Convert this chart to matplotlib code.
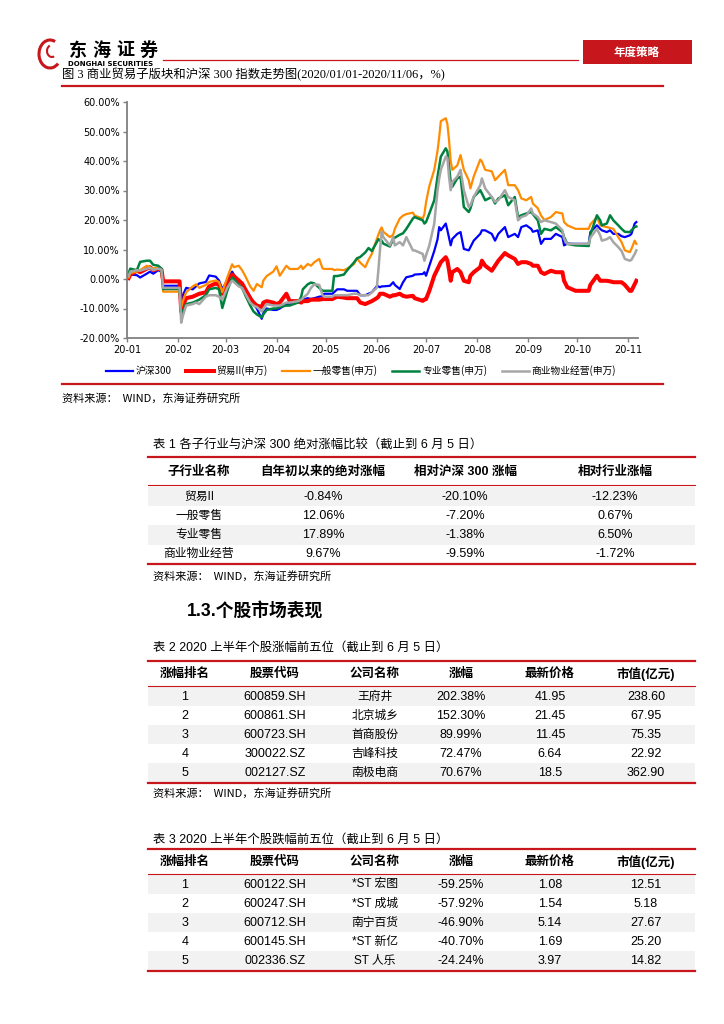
import pandas as pd
import matplotlib.pyplot as plt
import matplotlib.dates as mdates
from matplotlib.ticker import FuncFormatter
from matplotlib.lines import Line2D
from matplotlib.patches import Rectangle, Arc

plt.rcParams["font.family"] = ["Noto Sans CJK SC", "DejaVu Sans"]
CJK = ["Noto Sans CJK SC", "DejaVu Sans"]
SANS = ["Liberation Sans", "Noto Sans CJK SC"]
SERIF = ["Liberation Serif", "Noto Sans CJK SC"]

W, H = 724, 1024
RED = "#C8161D"

# ---- figure 3 data (cumulative change since 2020-01-01, %) ----
dates = [
    "01-02", "01-03", "01-07", "01-09", "01-13", "01-15", "01-17", "01-20", "01-22", "01-23",
    "02-02", "02-03", "02-04", "02-06", "02-10", "02-12", "02-14", "02-18", "02-20", "02-24", "02-26", "02-28",
    "03-02", "03-05", "03-06", "03-09", "03-11", "03-13", "03-16", "03-18", "03-20", "03-23", "03-24", "03-26", "03-30",
    "04-01", "04-03", "04-07", "04-09", "04-14", "04-16", "04-17", "04-20", "04-22", "04-24", "04-27", "04-29", "04-30",
    "05-05", "05-06", "05-08", "05-12", "05-14", "05-18", "05-20", "05-22", "05-25", "05-27", "05-29",
    "06-01", "06-02", "06-03", "06-04", "06-05", "06-09", "06-11", "06-12", "06-15", "06-17", "06-19", "06-23", "06-24", "06-29", "06-30",
    "07-01", "07-03", "07-06", "07-08", "07-09", "07-10", "07-13", "07-14", "07-15", "07-16", "07-17", "07-20", "07-22", "07-24", "07-27", "07-28", "07-30",
    "08-03", "08-04", "08-06", "08-10", "08-12", "08-14", "08-18", "08-20", "08-24", "08-26", "08-28", "08-31",
    "09-03", "09-04", "09-07", "09-09", "09-11", "09-15", "09-18", "09-22", "09-23", "09-25", "09-30",
    "10-08", "10-09", "10-13", "10-15", "10-16", "10-19", "10-21", "10-23", "10-26", "10-28", "10-30",
    "11-02", "11-03", "11-05", "11-06",
]

hs300 = [
    0.5, 1.5, 1.3, 0.5, 1.8, 2.5, 1.8, 3.0, 2.5, -2.3,
    -2.3, -8.5, -5.5, -3.0, -3.5, -2.5, -1.5, -1.0, 1.2, 0.8, -0.5, -3.5,
    -0.5, 2.5, 1.5, -1.0, -1.5, -3.5, -6.0, -8.5, -10.0, -13.5, -11.5, -10.0, -10.5,
    -10.5, -10.0, -8.5, -8.5, -8.0, -7.5, -7.0, -6.5, -6.8, -6.5, -6.0, -5.8, -5.0,
    -5.0, -4.5, -3.5, -3.5, -4.0, -4.0, -4.0, -5.5, -5.5, -5.0, -4.5,
    -2.5, -2.5, -2.8, -2.5, -2.5, -2.3, -1.1, -2.0, -3.4, -1.1, 0.6, 1.1, 1.5, 1.7, 2.3,
    1.1, 4.5, 9.5, 13.5, 17.6, 16.5, 18.8, 16.5, 14.0, 11.4, 13.6, 15.3, 15.9, 10.2, 9.7, 10.8, 13.0,
    15.3, 16.5, 16.5, 15.3, 13.0, 15.3, 17.6, 14.2, 15.3, 14.2, 17.6, 18.2,
    17.0, 16.0, 16.5, 11.9, 13.6, 13.6, 15.3, 14.2, 11.4, 12.0, 11.9,
    11.9, 15.9, 18.2, 17.0, 16.5, 15.9, 16.5, 15.3, 15.3, 14.5, 14.2,
    14.8, 15.3, 18.8, 19.3,
]

trade = [
    0.3, 1.5, 2.8, 2.3, 3.5, 4.0, 3.0, 3.5, 3.2, -0.8,
    -0.8, -11.0, -9.0, -6.5, -6.0, -5.5, -5.0, -4.5, -2.5, -1.5, -2.0, -5.0,
    -1.0, 1.5, 1.0, -0.5, -1.5, -3.5, -6.5, -8.0, -9.0, -9.5, -8.0, -7.5, -8.0,
    -8.5, -8.0, -5.0, -7.5, -7.5, -8.0, -7.5, -7.5, -7.0, -7.0, -7.0, -6.8, -6.8,
    -6.8, -6.5, -6.0, -6.3, -6.5, -6.5, -6.5, -8.0, -8.5, -8.0, -7.5,
    -6.5, -6.0, -5.0, -5.0, -5.0, -6.0, -5.5, -5.5, -5.0, -5.7, -6.0, -5.7, -6.5, -7.4, -7.0,
    -6.8, -4.0, 1.1, 3.4, 4.5, 5.7, 7.4, 6.2, 3.0, -0.6, 2.3, 3.4, 2.3, -0.6, -1.1, 1.1, 2.3,
    4.0, 6.2, 4.5, 2.8, 4.5, 6.2, 8.8, 8.0, 6.8, 5.1, 5.7, 5.7,
    5.1, 4.5, 4.5, 2.3, 1.7, 2.8, 2.3, 2.3, -0.6, -2.8, -4.0,
    -4.0, -2.0, 1.1, -0.6, -0.6, -0.6, -0.8, -1.1, -1.1, -1.1, -2.0,
    -4.0, -4.0, -1.7, -0.6,
]

general_retail = [
    0.5, 2.0, 2.5, 3.0, 4.5, 4.0, 3.5, 3.8, 3.0, -4.3,
    -4.3, -9.5, -7.5, -4.5, -2.5, -1.8, -3.0, -2.0, -1.0, -0.5, -1.0, -4.5,
    0.5, 5.0, 4.0, 4.5, 3.0, 1.0, -2.5, -4.0, -1.7, -2.8, -0.5, 1.0, 2.5,
    4.3, 1.1, 4.5, 3.4, 3.4, 4.5, 3.4, 5.1, 4.5, 5.7, 6.8, 3.6, 3.4,
    3.4, 3.0, 3.2, 3.0, 3.5, 5.0, 7.0, 5.5, 4.0, 6.5, 8.5,
    13.5, 15.0, 16.5, 17.5, 16.0, 14.2, 15.0, 17.0, 20.5, 21.5, 22.0, 22.5, 21.5, 20.5, 22.0,
    26.0, 31.5, 37.0, 43.5, 48.0, 53.5, 54.5, 52.5, 47.0, 40.0, 37.0, 38.5, 42.0, 37.0, 33.5, 30.7, 34.7,
    40.5, 39.8, 37.0, 36.5, 33.5, 34.7, 37.0, 31.8, 31.8, 30.1, 27.3, 26.7,
    27.8, 25.6, 24.0, 21.5, 20.0, 21.0, 22.7, 22.2, 19.3, 18.2, 17.0,
    17.0, 18.5, 21.0, 18.2, 18.0, 17.6, 17.3, 17.0, 14.2, 12.5, 9.7,
    9.1, 10.2, 13.0, 11.9,
]

special_retail = [
    2.0, 3.5, 3.0, 5.8, 6.2, 6.2, 4.8, 4.5, 3.5, -3.4,
    -3.4, -12.5, -11.0, -8.5, -8.0, -7.5, -7.0, -5.5, -3.5, -3.0, -3.5, -9.8,
    -4.0, 0.5, 0.0, -2.0, -3.0, -5.5, -9.0, -11.0, -12.0, -13.0, -12.0, -10.5, -10.0,
    -10.0, -9.5, -9.0, -9.0, -8.0, -6.0, -3.5, -1.8, -1.2, -1.5, -3.0, -4.0, -4.0,
    -4.0, 1.0, 1.0, 1.5, 3.0, 5.5, 7.0, 7.5, 9.0, 10.5, 9.5,
    12.5, 13.5, 13.0, 13.0, 12.0, 11.0, 13.5, 14.0, 15.0, 15.5, 17.0, 20.5, 21.0, 19.9, 18.8,
    19.3, 22.2, 26.7, 34.7, 38.0, 41.5, 44.3, 43.2, 38.0, 33.0, 31.3, 34.1, 34.7, 24.4, 22.7, 23.9, 27.8,
    30.1, 29.0, 26.7, 27.8, 25.6, 27.3, 28.4, 25.0, 27.8, 21.0, 21.6, 22.2,
    22.7, 22.0, 19.9, 15.3, 17.0, 16.5, 17.6, 15.9, 14.2, 11.9, 11.4,
    11.2, 15.0, 21.6, 19.9, 18.2, 18.8, 21.6, 19.9, 18.2, 17.0, 16.0,
    15.9, 16.5, 17.6, 17.8,
]

property_mgmt = [
    1.0, 2.5, 3.0, 2.8, 3.5, 3.8, 3.0, 3.5, 3.2, -3.0,
    -3.0, -14.8, -12.5, -9.0, -8.5, -8.0, -8.5, -6.0, -5.5, -5.5, -6.0, -7.0,
    -3.0, -0.5, -1.0, -2.5, -3.0, -5.0, -8.0, -9.0, -9.5, -11.0, -10.0, -8.5, -9.0,
    -9.0, -9.0, -8.0, -8.0, -7.5, -7.0, -6.5, -5.0, -3.0, -1.8, -2.0, -5.5, -6.0,
    -6.0, -5.5, -5.5, -5.5, -5.5, -5.0, -5.0, -5.5, -5.5, -5.5, -4.5,
    -3.0, 3.0, 10.0, 16.0, 14.2, 11.4, 14.2, 11.4, 12.5, 11.4, 14.2, 9.7, 9.7, 8.5, 6.2,
    8.0, 11.4, 18.8, 30.1, 34.0, 37.0, 41.5, 41.0, 34.7, 30.1, 32.9, 34.7, 37.0, 30.1, 24.4, 25.0, 27.8,
    31.8, 34.1, 30.7, 27.8, 26.1, 26.7, 30.1, 27.8, 26.7, 19.9, 21.0, 21.6,
    23.9, 22.2, 21.0, 19.3, 19.9, 19.3, 18.8, 16.5, 13.6, 11.9, 11.9,
    11.9, 14.0, 17.0, 14.8, 13.0, 13.5, 14.2, 12.5, 10.8, 9.5, 6.8,
    6.2, 6.5, 8.5, 9.7,
]

series_labels = ["沪深300", "贸易II(申万)", "一般零售(申万)", "专业零售(申万)", "商业物业经营(申万)"]

# ---- table data ----
t1_header = ["子行业名称", "自年初以来的绝对涨幅", "相对沪深 300 涨幅", "相对行业涨幅"]
t1_names = ["贸易II", "一般零售", "专业零售", "商业物业经营"]
t1_abs = ["-0.84%", "12.06%", "17.89%", "9.67%"]
t1_vs_hs300 = ["-20.10%", "-7.20%", "-1.38%", "-9.59%"]
t1_vs_ind = ["-12.23%", "0.67%", "6.50%", "-1.72%"]

stock_header = ["涨幅排名", "股票代码", "公司名称", "涨幅", "最新价格", "市值(亿元)"]
ranks = ["1", "2", "3", "4", "5"]
gain_codes = ["600859.SH", "600861.SH", "600723.SH", "300022.SZ", "002127.SZ"]
gain_names = ["王府井", "北京城乡", "首商股份", "吉峰科技", "南极电商"]
gain_pct = ["202.38%", "152.30%", "89.99%", "72.47%", "70.67%"]
gain_price = ["41.95", "21.45", "11.45", "6.64", "18.5"]
gain_cap = ["238.60", "67.95", "75.35", "22.92", "362.90"]
loss_codes = ["600122.SH", "600247.SH", "600712.SH", "600145.SH", "002336.SZ"]
loss_names = ["*ST 宏图", "*ST 成城", "南宁百货", "*ST 新亿", "ST 人乐"]
loss_pct = ["-59.25%", "-57.92%", "-46.90%", "-40.70%", "-24.24%"]
loss_price = ["1.08", "1.54", "5.14", "1.69", "3.97"]
loss_cap = ["12.51", "5.18", "27.67", "25.20", "14.82"]

source_text = "资料来源：  WIND，东海证券研究所"

fig = plt.figure(figsize=(7.24, 10.24), dpi=100)


def fx(x):
    return x / W


def fy(y):
    return 1 - y / H


def text(x, y, s, size, ha="left", weight="normal", color="black", family=CJK):
    fig.text(fx(x), fy(y), s, fontsize=size, ha=ha, va="center",
             weight=weight, color=color, family=family)


def hline(x0, x1, y, lw, color=RED):
    fig.add_artist(Line2D([fx(x0), fx(x1)], [fy(y), fy(y)], lw=lw, color=color,
                          transform=fig.transFigure))


def band(x0, x1, y0, y1, color="#F2F2F2"):
    fig.add_artist(Rectangle((fx(x0), fy(y1)), fx(x1) - fx(x0), (y1 - y0) / H,
                             facecolor=color, lw=0, transform=fig.transFigure, zorder=0))


# ---- page header ----
fig.add_artist(Arc((fx(50), fy(54)), 22 / W, 28 / H, theta1=60, theta2=320,
                   lw=2.2, color=RED, transform=fig.transFigure))
fig.add_artist(Arc((fx(52), fy(51)), 10 / W, 12 / H, theta1=120, theta2=300,
                   lw=1.5, color=RED, transform=fig.transFigure))
for i, ch in enumerate("东海证券"):
    text(78 + i * 23.5, 50, ch, 13, ha="center", weight="bold")
text(68, 64, "DONGHAI SECURITIES", 5.0, weight="bold", family=["DejaVu Sans"])
hline(163, 578, 60, 0.9)
band(583, 692, 40, 64, RED)
text(637, 52, "年度策略", 8.3, ha="center", weight="bold", color="white")

# ---- figure 3 ----
text(62, 75, "图 3 商业贸易子版块和沪深 300 指数走势图(2020/01/01-2020/11/06，%)", 8.9, family=SERIF)
hline(62, 663, 86, 1.6)

x = pd.to_datetime(["2020-" + d for d in dates])
ax = fig.add_axes([fx(127), fy(338), fx(638) - fx(127), (338 - 102) / H])
ax.plot(x, hs300, color="#0000FF", lw=1.6, label=series_labels[0])
ax.plot(x, trade, color="#FF0000", lw=2.9, label=series_labels[1])
ax.plot(x, general_retail, color="#FF8C00", lw=1.6, label=series_labels[2])
ax.plot(x, special_retail, color="#00823F", lw=1.8, label=series_labels[3])
ax.plot(x, property_mgmt, color="#A6A6A6", lw=1.8, label=series_labels[4])
ax.set_xlim(pd.Timestamp("2020-01-01"), pd.Timestamp("2020-11-07"))
ax.set_ylim(-20, 60)
ax.set_yticks(range(-20, 61, 10))
ax.yaxis.set_major_formatter(FuncFormatter(lambda v, p: f"{v:.2f}%"))
ax.xaxis.set_major_locator(mdates.MonthLocator())
ax.xaxis.set_major_formatter(mdates.DateFormatter("%y-%m"))
for s in ["top", "right"]:
    ax.spines[s].set_visible(False)
for s in ["left", "bottom"]:
    ax.spines[s].set_color("#808080")
    ax.spines[s].set_linewidth(1.3)
ax.tick_params(length=3, width=1, color="#808080", labelsize=7, pad=2)
for lab in ax.get_xticklabels() + ax.get_yticklabels():
    lab.set_family(["DejaVu Sans"])
ax.patch.set_alpha(0)

fig.legend(*ax.get_legend_handles_labels(), loc="center", bbox_to_anchor=(fx(361), fy(371)),
           ncol=5, frameon=False, fontsize=7, handlelength=2.8, handletextpad=0.3,
           columnspacing=1.5)
hline(62, 663, 384, 1.6)
text(62, 398, source_text, 8)

# ---- table 1 ----
TL, TR = 148, 695
text(153, 446, "表 1 各子行业与沪深 300 绝对涨幅比较（截止到 6 月 5 日）", 8.9, family=SANS)
hline(TL, TR, 457, 1.6)
t1_cols = [199, 323, 465, 615]
for cx, h in zip(t1_cols, t1_header):
    text(cx, 472, h, 9, ha="center", weight="bold", family=SANS)
hline(TL, TR, 485, 0.8)
t1_rows = [496.5, 515.7, 534.9, 554.1]
for i, ry in enumerate(t1_rows):
    if i % 2 == 0:
        band(TL, TR, ry - 9.6, ry + 9.6)
    text(t1_cols[0], ry, t1_names[i], 8.5, ha="center", family=SANS)
    text(t1_cols[1], ry, t1_abs[i], 9, ha="center", family=SANS)
    text(t1_cols[2], ry, t1_vs_hs300[i], 9, ha="center", family=SANS)
    text(t1_cols[3], ry, t1_vs_ind[i], 9, ha="center", family=SANS)
hline(TL, TR, 564, 1.6)
text(153, 576, source_text, 8)

# ---- section title ----
text(187, 612, "1.3.个股市场表现", 12.8, weight="bold", family=SANS)


def stock_table(cap_y, caption, codes, names, pct, price, cap, top, source):
    text(153, cap_y, caption, 8.9, family=SANS)
    hline(TL, TR, top, 1.6)
    cols = [185, 275, 375, 461, 550, 646]
    for cx, h in zip(cols, stock_header):
        text(cx, top + 13, h, 9, ha="center", weight="bold", family=SANS)
    hline(TL, TR, top + 25, 0.8)
    for i in range(5):
        ry = top + 35.5 + i * 19.1
        if i % 2 == 0:
            band(TL, TR, ry - 9.55, ry + 9.55)
        cells = [ranks[i], codes[i], names[i], pct[i], price[i], cap[i]]
        for cx, c in zip(cols, cells):
            size = 8.5 if c in names else 9
            text(cx, ry, c, size, ha="center", family=SANS)
    bottom = top + 35.5 + 4 * 19.1 + 10
    hline(TL, TR, bottom, 1.6)
    if source:
        text(153, bottom + 10, source_text, 8)


stock_table(648, "表 2 2020 上半年个股涨幅前五位（截止到 6 月 5 日）",
            gain_codes, gain_names, gain_pct, gain_price, gain_cap, 661, True)
stock_table(840, "表 3 2020 上半年个股跌幅前五位（截止到 6 月 5 日）",
            loss_codes, loss_names, loss_pct, loss_price, loss_cap, 849, False)

fig.savefig("out.png", dpi=100)
